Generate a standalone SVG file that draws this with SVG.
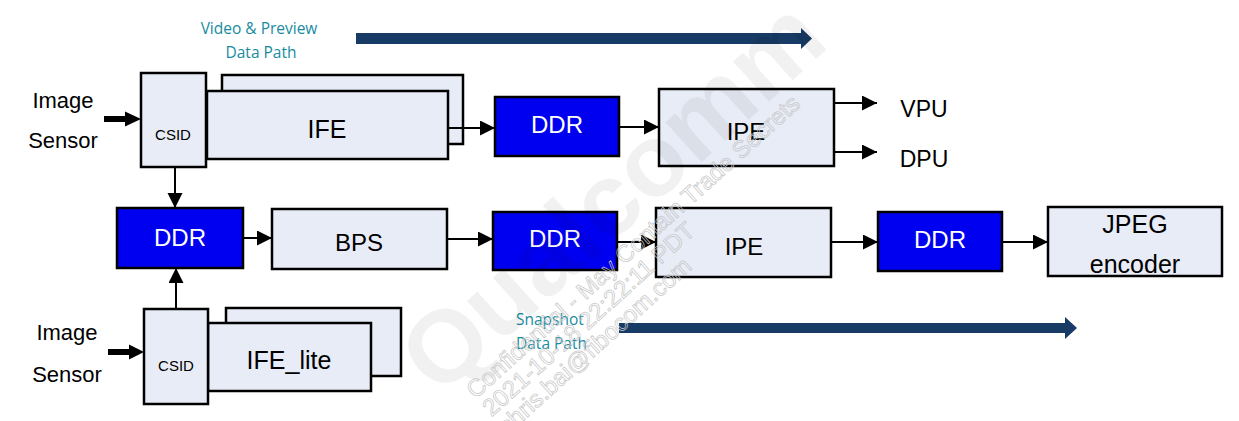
<svg xmlns="http://www.w3.org/2000/svg" width="1239" height="421" viewBox="0 0 1239 421">
<style>
.box{fill:#e7ecf6;stroke:#000;stroke-width:2.5}
.ddr{fill:#0000f0;stroke:#000;stroke-width:2.5}
.t{font-family:"Liberation Sans",Arial,sans-serif;fill:#000;text-anchor:middle}
.tw{font-family:"Liberation Sans",Arial,sans-serif;fill:#fff;text-anchor:middle;font-size:24px}
.teal{font-family:"Open Sans","Liberation Sans",sans-serif;fill:#178ba0;font-size:15.5px}
.ln{stroke:#000;stroke-width:2;fill:none;marker-end:url(#ah)}
.thick{stroke:#000;stroke-width:6;fill:none}
.bar{fill:#173b64}
.wm{font-family:"Liberation Sans",Arial,sans-serif;font-size:24px;fill:none;stroke:#c6c6c6;stroke-width:0.7}
</style>
<defs>
<marker id="ah" markerUnits="userSpaceOnUse" markerWidth="16" markerHeight="16" refX="15" refY="7.5" orient="auto">
<path d="M0,0 L15,7.5 L0,15 z" fill="#000"/>
</marker>
</defs>
<rect width="1239" height="421" fill="#fff"/>

<g id="video-path-label">
<text class="teal" x="259" y="34" text-anchor="middle">Video &amp; Preview</text>
<text class="teal" x="261" y="58" text-anchor="middle">Data Path</text>
<rect class="bar" x="356" y="33" width="446" height="11"/>
<polygon class="bar" points="801,28 812,38.5 801,49"/>
</g>

<g id="snapshot-path-label">
<text class="teal" x="516" y="325">Snapshot</text>
<text class="teal" x="516" y="349">Data Path</text>
<rect class="bar" x="619" y="323" width="447" height="10"/>
<polygon class="bar" points="1065,317 1077,328 1065,339"/>
</g>

<g id="sensor1">
<text class="t" x="63" y="108" font-size="22">Image</text>
<text class="t" x="63" y="148" font-size="22">Sensor</text>
</g>
<g id="sensor2">
<text class="t" x="67" y="340" font-size="22">Image</text>
<text class="t" x="67" y="382" font-size="22">Sensor</text>
</g>

<g id="ife">
<rect class="box" x="222" y="75" width="241" height="69"/>
<rect class="box" x="207" y="91" width="241" height="68"/>
<text class="t" x="327" y="138" font-size="25">IFE</text>
</g>
<g id="csid1">
<rect class="box" x="141" y="73" width="65" height="94"/>
<text class="t" x="173" y="140" font-size="15">CSID</text>
</g>

<g id="ddr-top">
<rect class="ddr" x="495" y="97" width="124" height="59"/>
<text class="tw" x="557" y="133">DDR</text>
</g>
<g id="ipe-top">
<rect class="box" x="659" y="89" width="175" height="77"/>
<text class="t" x="746" y="140" font-size="24">IPE</text>
</g>
<g id="vpu"><text class="t" x="924" y="117" font-size="23">VPU</text></g>
<g id="dpu"><text class="t" x="924" y="167" font-size="23">DPU</text></g>

<g id="ddr1">
<rect class="ddr" x="117" y="208" width="126" height="60"/>
<text class="tw" x="180" y="246">DDR</text>
</g>
<g id="bps">
<rect class="box" x="272" y="209" width="175" height="60"/>
<text class="t" x="359" y="251" font-size="24">BPS</text>
</g>
<g id="ddr2">
<rect class="ddr" x="493" y="212" width="124" height="58"/>
<text class="tw" x="555" y="247">DDR</text>
</g>
<g id="ipe2">
<rect class="box" x="656" y="208" width="175" height="69"/>
<text class="t" x="744" y="255" font-size="24">IPE</text>
</g>
<g id="ddr3">
<rect class="ddr" x="878" y="212" width="124" height="59"/>
<text class="tw" x="940" y="248">DDR</text>
</g>
<g id="jpeg">
<rect class="box" x="1048" y="207" width="174" height="69"/>
<text class="t" x="1135" y="233" font-size="25">JPEG</text>
<text class="t" x="1135" y="273" font-size="25">encoder</text>
</g>

<g id="ife-lite">
<rect class="box" x="226" y="308" width="175" height="68"/>
<rect class="box" x="208" y="323" width="163" height="68"/>
<text class="t" x="289" y="369" font-size="25">IFE_lite</text>
</g>
<g id="csid2">
<rect class="box" x="144" y="309" width="64" height="95"/>
<text class="t" x="176" y="371" font-size="15">CSID</text>
</g>

<g id="connectors">
<line class="thick" x1="104" y1="119" x2="127" y2="119"/>
<polygon points="125,111.5 141,119 125,126.5" fill="#000"/>
<line class="thick" x1="108" y1="352" x2="131" y2="352"/>
<polygon points="129,344.5 144,352 129,359.5" fill="#000"/>
<line class="ln" x1="175" y1="167" x2="175" y2="208"/>
<line class="ln" x1="176" y1="309" x2="176" y2="268"/>
<line class="ln" x1="448" y1="128" x2="495" y2="128"/>
<line class="ln" x1="619" y1="127" x2="659" y2="127"/>
<line class="ln" x1="834" y1="103" x2="877" y2="103"/>
<line class="ln" x1="834" y1="152" x2="877" y2="152"/>
<line class="ln" x1="243" y1="238" x2="272" y2="238"/>
<line class="ln" x1="447" y1="239" x2="493" y2="239"/>
<line class="ln" x1="617" y1="242" x2="656" y2="242"/>
<line class="ln" x1="831" y1="242" x2="878" y2="242"/>
<line class="ln" x1="1002" y1="242" x2="1048" y2="242"/>
</g>

<g id="watermark">
<text transform="rotate(-42)" x="60" y="590" font-family="Liberation Sans,Arial,sans-serif" font-weight="bold" font-size="102" fill="#000" fill-opacity="0.055">Qualcomm</text>
<text class="wm" transform="rotate(-42)" x="86" y="615">Confidential - May Contain Trade Secrets</text>
<text class="wm" transform="rotate(-42)" x="86" y="639">2021-10-18 22:22:11 PDT</text>
<text class="wm" transform="rotate(-42)" x="86" y="663">chris.bai@fibocom.com</text>
</g>
</svg>
